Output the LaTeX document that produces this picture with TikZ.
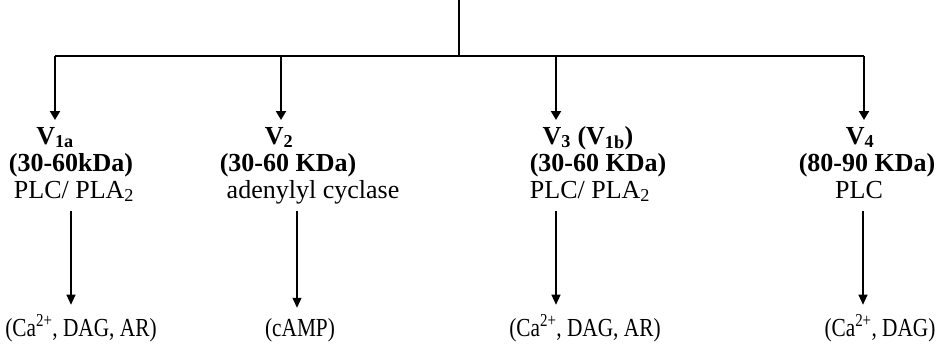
\documentclass[tikz,border=0pt]{standalone}
\usepackage{fontspec}
\usepackage{graphicx}
\setmainfont{Liberation Serif}
\usetikzlibrary{arrows.meta}
\newcommand{\narrow}[1]{\scalebox{0.82}[1]{#1}}
\begin{document}
\begin{tikzpicture}[x=1pt,y=-1pt,
  lbl/.style={anchor=base,inner sep=0pt,font=\fontsize{26}{30}\selectfont},
  blbl/.style={lbl,font=\fontsize{26}{30}\selectfont\bfseries},
  btm/.style={anchor=base,inner sep=0pt,font=\fontsize{26}{30}\selectfont},
  trunk/.style={line width=2.2pt},
  branch/.style={line width=2.2pt,-{Triangle[width=10pt,length=9pt]}},
  lower/.style={line width=1.1pt,-{Triangle[width=9pt,length=10pt]}}
]
\useasboundingbox (0,0) rectangle (950,348);
% trunk
\coordinate (top) at (459,0);
\coordinate (hub) at (459,56);
\coordinate (h1) at (55,56);
\coordinate (h2) at (281,56);
\coordinate (h3) at (556,56);
\coordinate (h4) at (864,56);
\coordinate (t1) at (55,120);
\coordinate (t2) at (281,120);
\coordinate (t3) at (556,120);
\coordinate (t4) at (864,120);
\draw[trunk] (top) -- (hub);
\draw[trunk] (h1) -- (h4);
\draw[branch] (h1) -- (t1);
\draw[branch] (h2) -- (t2);
\draw[branch] (h3) -- (t3);
\draw[branch] (h4) -- (t4);
% column 1
\node[blbl] (a1) at (55,144) {V\textsubscript{1a}};
\node[blbl] (a2) at (71,171) {(30-60kDa)};
\node[lbl]  (a3) at (74,198) {PLC/ PLA\textsubscript{2}};
\node[btm]  (a4) at (81,336) {\narrow{(Ca\textsuperscript{2+}, DAG, AR)}};
% column 2
\node[blbl] (b1) at (279,144) {V\textsubscript{2}};
\node[blbl] (b2) at (288,171) {(30-60 KDa)};
\node[lbl]  (b3) at (313,198) {adenylyl cyclase};
\node[btm]  (b4) at (300,336) {\narrow{(cAMP)}};
% column 3
\node[blbl] (c1) at (588,144) {V\textsubscript{3} (V\textsubscript{1b})};
\node[blbl] (c2) at (598,171) {(30-60 KDa)};
\node[lbl]  (c3) at (590,198) {PLC/ PLA\textsubscript{2}};
\node[btm]  (c4) at (585,336) {\narrow{(Ca\textsuperscript{2+}, DAG, AR)}};
% column 4
\node[blbl] (d1) at (860,144) {V\textsubscript{4}};
\node[blbl] (d2) at (867,171) {(80-90 KDa)};
\node[lbl]  (d3) at (859,198) {PLC};
\node[btm]  (d4) at (880,336) {\narrow{(Ca\textsuperscript{2+}, DAG)}};
% lower arrows
\coordinate (l1) at (71,211);
\coordinate (l2) at (297,211);
\coordinate (l3) at (556,211);
\coordinate (l4) at (863,211);
\draw[lower] (l1) -- ([yshift=10pt]l1 |- a4.north);
\draw[lower] (l2) -- ([yshift=10pt]l2 |- b4.north);
\draw[lower] (l3) -- ([yshift=10pt]l3 |- c4.north);
\draw[lower] (l4) -- ([yshift=10pt]l4 |- d4.north);
\end{tikzpicture}
\end{document}
